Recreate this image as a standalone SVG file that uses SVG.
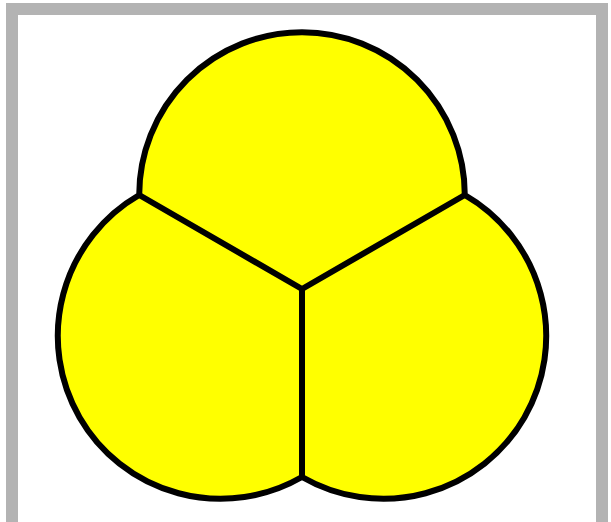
<svg xmlns="http://www.w3.org/2000/svg" width="611" height="522" viewBox="0 0 611 522">
<style>
.frame{fill:#ffffff;stroke:#b3b3b3;stroke-width:12}
.shape{fill:#ffff00;stroke:#000000;stroke-width:6;stroke-linejoin:miter}
.line{fill:none;stroke:#000000;stroke-width:6}
</style>
<rect class="frame" x="12" y="9" width="590" height="525"/>
<g id="trefoil">
<path class="shape" d="M139.2,195 A162.8,162.8 0 0 1 464.8,195 A162.8,162.8 0 0 1 302,477 A162.8,162.8 0 0 1 139.2,195 Z"/>
</g>
<g id="connectors">
<path class="line" d="M302,289 L139.2,195 M302,289 L464.8,195 M302,289 L302,477"/>
</g>
</svg>
